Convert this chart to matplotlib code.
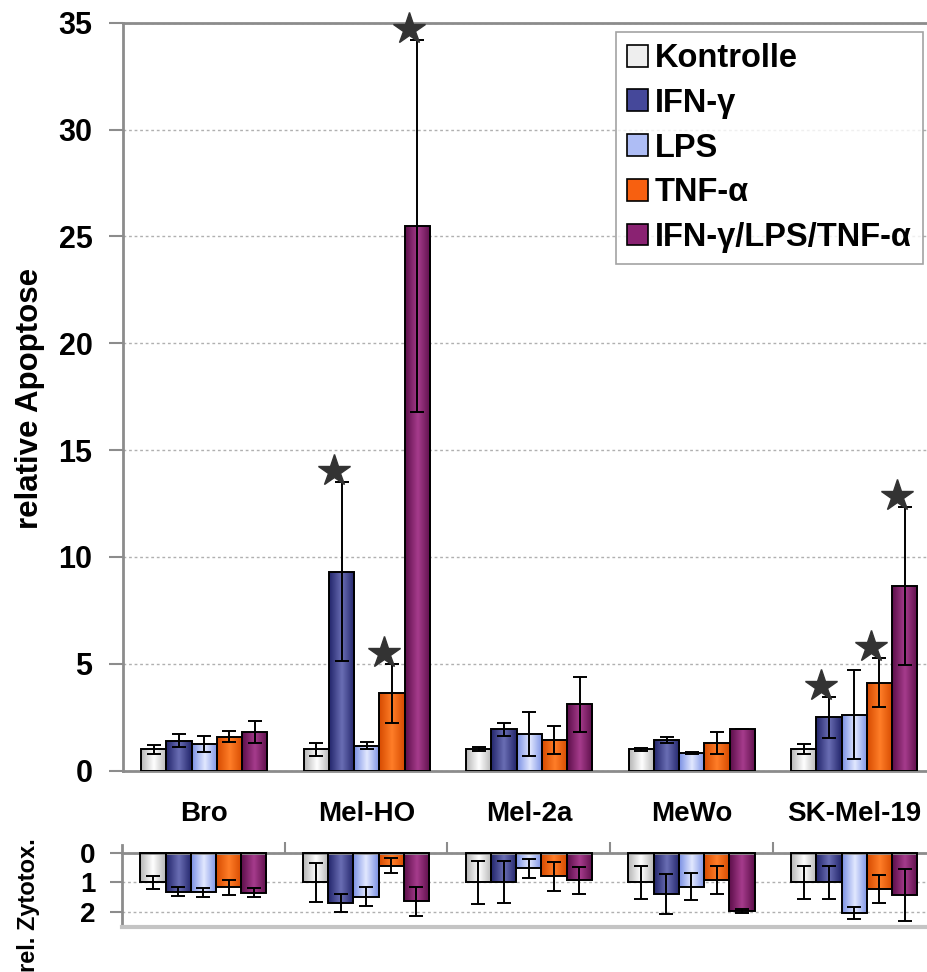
import numpy as np
import matplotlib
matplotlib.use("Agg")
import matplotlib.pyplot as plt
from matplotlib.colors import LinearSegmentedColormap
from matplotlib.patches import Patch
from matplotlib.transforms import ScaledTranslation

plt.rcParams['font.family'] = ['Liberation Sans', 'DejaVu Sans']
plt.rcParams['font.weight'] = 'bold'

groups = ["Bro", "Mel-HO", "Mel-2a", "MeWo", "SK-Mel-19"]
treatments = ["Kontrolle", "IFN-γ", "LPS", "TNF-α", "IFN-γ/LPS/TNF-α"]

# relative Apoptose (upper panel)
apo_kontrolle = [1.0, 1.0, 1.0, 1.0, 1.0]
apo_ifn = [1.41, 9.32, 1.94, 1.43, 2.49]
apo_lps = [1.25, 1.16, 1.72, 0.82, 2.62]
apo_tnf = [1.60, 3.63, 1.43, 1.29, 4.12]
apo_combo = [1.80, 25.5, 3.10, 1.93, 8.65]

err_kontrolle = [0.20, 0.29, 0.10, 0.06, 0.23]
err_ifn = [0.32, 4.20, 0.31, 0.13, 0.96]
err_lps = [0.39, 0.16, 1.02, 0.05, 2.07]
err_tnf = [0.27, 1.38, 0.67, 0.52, 1.16]
err_combo = [0.51, 8.70, 1.28, 0.0, 3.70]

# rel. Zytotox. (lower panel, drawn downward)
zyt_kontrolle = [1.0, 1.0, 1.0, 1.0, 1.0]
zyt_ifn = [1.31, 1.71, 0.99, 1.40, 1.0]
zyt_lps = [1.34, 1.48, 0.51, 1.14, 2.05]
zyt_tnf = [1.17, 0.43, 0.79, 0.91, 1.21]
zyt_combo = [1.35, 1.64, 0.93, 1.97, 1.43]

zerr_kontrolle = [0.22, 0.65, 0.74, 0.56, 0.58]
zerr_ifn = [0.16, 0.31, 0.72, 0.68, 0.56]
zerr_lps = [0.14, 0.31, 0.32, 0.47, 0.20]
zerr_tnf = [0.25, 0.26, 0.49, 0.49, 0.48]
zerr_combo = [0.16, 0.50, 0.47, 0.07, 0.88]

# significant (group index, treatment index)
significant = [(1, 1), (1, 3), (1, 4), (4, 1), (4, 3), (4, 4)]

apo = [apo_kontrolle, apo_ifn, apo_lps, apo_tnf, apo_combo]
apo_err = [err_kontrolle, err_ifn, err_lps, err_tnf, err_combo]
zyt = [zyt_kontrolle, zyt_ifn, zyt_lps, zyt_tnf, zyt_combo]
zyt_err = [zerr_kontrolle, zerr_ifn, zerr_lps, zerr_tnf, zerr_combo]

# (edge, centre) colours for the shaded bars
shades = [("#b5b5b5", "#ffffff"),
          ("#22256b", "#6a6eb4"),
          ("#7a90e4", "#e2e8ff"),
          ("#d64a00", "#ff7e28"),
          ("#5c0e4a", "#a63c8c")]
solid = ["#eeeeee", "#45489a", "#aebdf5", "#f76010", "#8a2272"]

W, H = 927, 972
fig = plt.figure(figsize=(W / 100, H / 100), dpi=100)
ax = fig.add_axes([123 / W, (H - 770.7) / H, (W - 123) / W, (770.7 - 22.7) / H])
ax2 = fig.add_axes([122 / W, (H - 927.3) / H, (W - 122) / W, (927.3 - 845) / H])

x = np.arange(len(groups))
bw = 0.155
gray = "#8c8c8c"


def shaded_bars(axis, vals, errs, k):
    bars = axis.bar(x + (k - 2) * bw, vals, bw, facecolor="none",
                    edgecolor="black", linewidth=1.4, zorder=3)
    cmap = LinearSegmentedColormap.from_list("s%d" % k, [shades[k][0], shades[k][1], shades[k][0]])
    grad = np.linspace(0, 1, 64).reshape(1, -1)
    for r in bars:
        y0, y1 = r.get_y(), r.get_y() + r.get_height()
        im = axis.imshow(grad, cmap=cmap, aspect="auto", zorder=2.5,
                         extent=(r.get_x(), r.get_x() + r.get_width(), min(y0, y1), max(y0, y1)),
                         origin="lower")
        im.set_clip_path(r)
    axis.errorbar(x + (k - 2) * bw, vals, yerr=errs, fmt="none", ecolor="black",
                  elinewidth=1.4, capsize=5, capthick=1.4, zorder=4)
    return bars


for k in range(5):
    shaded_bars(ax, apo[k], apo_err[k], k)
    shaded_bars(ax2, zyt[k], zyt_err[k], k)

# stars above significant bars
star_off = ax.transData + ScaledTranslation(-0.08, 0.11, fig.dpi_scale_trans)
for g, k in significant:
    top = apo[k][g] + apo_err[k][g]
    ax.plot(x[g] + (k - 2) * bw, top, marker="*", markersize=24, color="#333333",
            transform=star_off, clip_on=False, zorder=6)

# upper axes styling
ax.set_xlim(-0.5, -0.5 + 804 / 162.5)
ax.set_ylim(0, 35)
ax.set_yticks(range(0, 36, 5))
ax.yaxis.grid(True, linestyle=(0, (2, 2)), color="#b0b0b0", linewidth=1)
ax.set_axisbelow(True)
ax.spines["right"].set_visible(False)
for s in ["left", "bottom", "top"]:
    ax.spines[s].set_color(gray)
    ax.spines[s].set_linewidth(2)
ax.set_xticks(x)
ax.set_xticklabels(groups, fontsize=20, fontweight="bold")
ax.tick_params(axis="x", length=0, pad=22)
ax.tick_params(axis="y", length=10, width=1.5, color=gray, labelsize=22, pad=12)

leg = ax.legend([Patch(facecolor=c, edgecolor="black", linewidth=1.2) for c in solid],
                treatments, loc="upper right", bbox_to_anchor=(0.995, 0.988),
                borderaxespad=0, fontsize=23.5, frameon=True, fancybox=False,
                handlelength=0.65, handleheight=0.65, handletextpad=0.2,
                labelspacing=0.42, borderpad=0.35)
leg.get_frame().set_edgecolor(gray)
leg.get_frame().set_linewidth(1.2)

# lower axes styling
ax2.set_xlim(-0.5, -0.5 + 804 / 162.5)
ax2.set_ylim(2.53, -0.28)
ax2.set_yticks([0, 1, 2])
ax2.yaxis.grid(True, linestyle=(0, (2, 2)), color="#b0b0b0", linewidth=1)
ax2.set_axisbelow(True)
ax2.spines["right"].set_visible(False)
ax2.spines["top"].set_position(("data", 0))
for s in ["left", "top"]:
    ax2.spines[s].set_color(gray)
    ax2.spines[s].set_linewidth(2)
ax2.spines["bottom"].set_color("#c4c4c4")
ax2.spines["bottom"].set_linewidth(3)
ax2.xaxis.set_ticks_position("top")
ax2.set_xticks(x[:-1] + 0.5)
ax2.set_xticklabels([])
ax2.tick_params(axis="x", direction="out", length=8, width=1.5, color=gray)
ax2.tick_params(axis="y", length=9, width=1.5, color=gray, labelsize=20, pad=10)

fig.text(30 / W, 1 - 398 / H, "relative Apoptose", rotation=90, ha="center", va="center",
         fontsize=22.5, fontweight="bold")
fig.text(28 / W, 1 - 905 / H, "rel. Zytotox.", rotation=90, ha="center", va="center",
         fontsize=17, fontweight="bold")

fig.savefig("out.png", dpi=100)
